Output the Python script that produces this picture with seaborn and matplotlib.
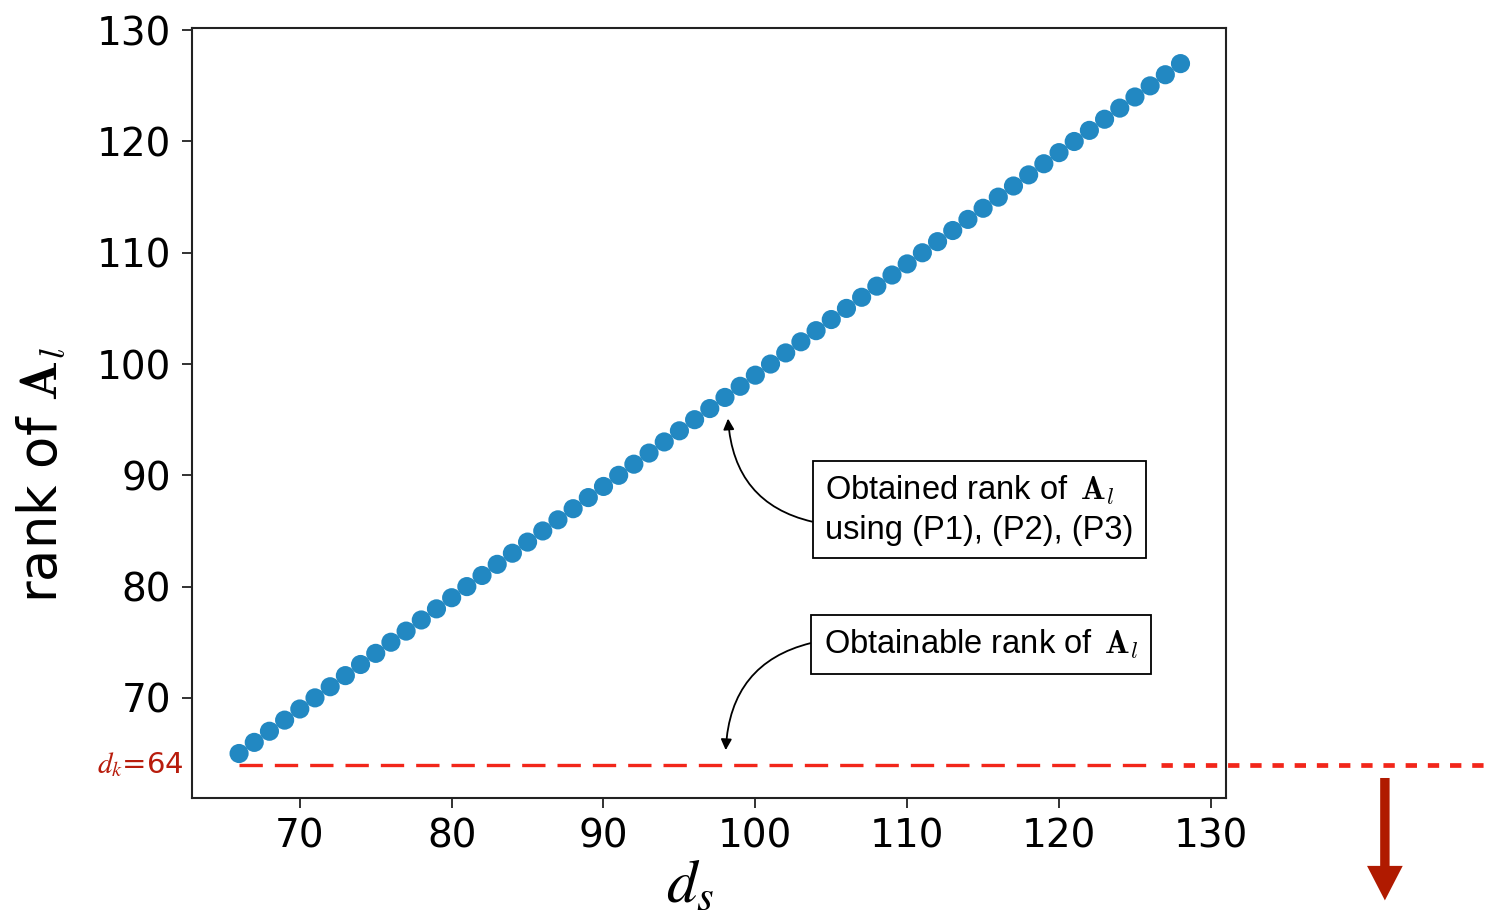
import matplotlib
matplotlib.use("Agg")
import matplotlib.pyplot as plt
import seaborn as sns
import pandas as pd
from matplotlib.transforms import blended_transform_factory, offset_copy

# ---- data ----
ds_values = [66, 67, 68, 69, 70, 71, 72, 73, 74, 75, 76, 77, 78, 79, 80, 81,
             82, 83, 84, 85, 86, 87, 88, 89, 90, 91, 92, 93, 94, 95, 96, 97,
             98, 99, 100, 101, 102, 103, 104, 105, 106, 107, 108, 109, 110,
             111, 112, 113, 114, 115, 116, 117, 118, 119, 120, 121, 122, 123,
             124, 125, 126, 127, 128]
rank_values = [65, 66, 67, 68, 69, 70, 71, 72, 73, 74, 75, 76, 77, 78, 79, 80,
               81, 82, 83, 84, 85, 86, 87, 88, 89, 90, 91, 92, 93, 94, 95, 96,
               97, 98, 99, 100, 101, 102, 103, 104, 105, 106, 107, 108, 109,
               110, 111, 112, 113, 114, 115, 116, 117, 118, 119, 120, 121, 122,
               123, 124, 125, 126, 127]
dk = 64
x_ticks = [70, 80, 90, 100, 110, 120, 130]
y_ticks = [70, 80, 90, 100, 110, 120, 130]
label_obtained = "Obtained rank of $\\,\\mathbf{A}_l$\nusing (P1), (P2), (P3)"
label_obtainable = "Obtainable rank of $\\,\\mathbf{A}_l$"

df = pd.DataFrame({"ds": ds_values, "rank": rank_values})

sns.set_theme(style="ticks")
plt.rcParams["font.family"] = ["DejaVu Sans"]
plt.rcParams["mathtext.fontset"] = "stix"
plt.rcParams["text.color"] = "black"

fig = plt.figure(figsize=(14.93, 9.18), dpi=100)
ax = fig.add_axes([0.1286, 0.1307, 0.6926, 0.8388])

sns.scatterplot(data=df, x="ds", y="rank", ax=ax, s=190, color="#2288c2",
                edgecolor="none", linewidth=0, zorder=3)

ax.set_xlim(62.9, 131.0)
ax.set_ylim(61.0, 130.2)
ax.set_xticks(x_ticks)
ax.set_yticks(y_ticks)
ax.tick_params(axis="both", labelsize=28, length=7, width=1.3, color="#222222",
               labelcolor="black", direction="out")
ax.tick_params(axis="y", pad=8)
ax.tick_params(axis="x", pad=7)
for sp in ax.spines.values():
    sp.set_visible(True)
    sp.set_linewidth(1.5)
    sp.set_color("#222222")

# red dashed line for d_k inside axes
xmax_in = 126.0
ax.plot([ds_values[0], xmax_in], [dk, dk], color="#f2261a", lw=2.4,
        linestyle=(0, (7.0, 3.6)), zorder=2)
# continuation outside axes with shorter dashes
ax.plot([xmax_in + 0.7, 150.0], [dk, dk], color="#f2261a", lw=3.4,
        linestyle=(0, (2.4, 2.3)), clip_on=False, zorder=2)

# d_k label at left
trans = blended_transform_factory(ax.transAxes, ax.transData)
trans = offset_copy(trans, fig=fig, x=-6, y=0, units="points")
ax.text(0, dk, "$d_k$=64", transform=trans, ha="right", va="center",
        fontsize=21, color="#b81c0c")

# big dark red arrow at the right
ax.arrow(141.46, 62.8, 0, -11.0, width=0.62, head_width=2.35, head_length=3.1,
         length_includes_head=True, color="#b01a00", lw=0, clip_on=False)

# annotations
box = dict(boxstyle="square,pad=0.38", fc="white", ec="black", lw=1.3)
ax.annotate(label_obtained, xy=(98.2, 95.1), xytext=(104.6, 86.9),
            textcoords="data", ha="left", va="center", fontsize=23.5,
            family=["Liberation Sans", "DejaVu Sans"], bbox=box,
            linespacing=1.3, math_fontfamily="cm", color="black",
            arrowprops=dict(arrowstyle="-|>", color="black", lw=1.3,
                            mutation_scale=16, relpos=(0, 0.3),
                            connectionstyle="arc3,rad=-0.4", shrinkA=0, shrinkB=0))
ax.annotate(label_obtainable, xy=(98.05, 65.3), xytext=(104.5, 74.8),
            textcoords="data", ha="left", va="center", fontsize=23.5,
            family=["Liberation Sans", "DejaVu Sans"], bbox=box,
            math_fontfamily="cm", color="black",
            arrowprops=dict(arrowstyle="-|>", color="black", lw=1.3,
                            mutation_scale=16, relpos=(0, 0.62),
                            connectionstyle="arc3,rad=0.4", shrinkA=0, shrinkB=0))

ax.set_xlabel("$d_s$", fontsize=44, color="black")
ax.set_ylabel("rank of $\\mathbf{A}_l$", fontsize=38, color="black",
              math_fontfamily="cm")
ax.xaxis.set_label_coords(0.482, -0.075)
ax.yaxis.set_label_coords(-0.12, 0.42)

fig.savefig("out.png", dpi=100)
